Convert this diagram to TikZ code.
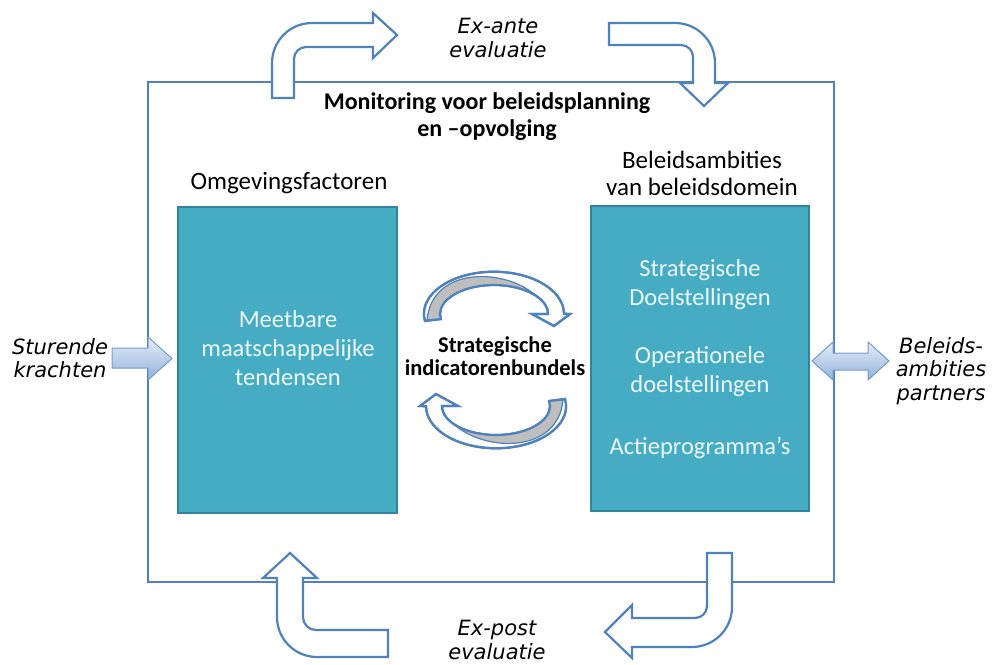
\documentclass[tikz,border=0pt]{standalone}
\usepackage{fontspec}
\setmainfont{Carlito}
\newfontfamily\verd{DejaVu Sans}
\definecolor{frameblue}{RGB}{79,129,189}
\definecolor{tealfill}{RGB}{70,172,196}
\definecolor{tealline}{RGB}{49,133,155}
\definecolor{boxtext}{RGB}{236,246,249}
\definecolor{foldgray}{RGB}{190,190,190}
\definecolor{arrtop}{RGB}{230,237,247}
\definecolor{arrbot}{RGB}{145,178,218}
\definecolor{arrline}{RGB}{115,155,205}
\begin{document}
\begin{tikzpicture}[x=1pt,y=-1pt,
  framestyle/.style={draw=frameblue, line width=2pt},
  bentarrow/.style={draw=frameblue, line width=2.2pt, fill=white, line join=miter},
  foldstyle/.style={fill=foldgray, draw=frameblue, line width=1.2pt},
  tealbox/.style={draw=tealline, line width=1.5pt, fill=tealfill, inner sep=0pt},
  boxlabel/.style={text=boxtext, align=center, font=\fontsize{24.5}{29}\selectfont},
  headlabel/.style={align=center, font=\fontsize{25}{27}\selectfont},
  sidelabel/.style={align=center, font=\verd\itshape\fontsize{21}{23.5}\selectfont},
  blockarrow/.style={draw=arrline, line width=1pt, top color=arrtop, bottom color=arrbot, line join=miter}]
\useasboundingbox (0,0) rectangle (992,664);

% frame
\draw[framestyle] (148,82) rectangle (834,582);

% boxes
\node[tealbox, minimum width=219pt, minimum height=306pt] (lbox) at (287.5,360) {};
\node[tealbox, minimum width=218pt, minimum height=305pt] (rbox) at (700,358.5) {};
\node[boxlabel] (ltext) at (288,348) {Meetbare\\maatschappelijke\\tendensen};
\node[boxlabel] (rtext1) at (700,284.5) {Strategische\\Doelstellingen};
\node[boxlabel] (rtext2) at (700,372) {Operationele\\doelstellingen};
\node[boxlabel] (rtext3) at (700,448) {Actieprogramma’s};

% headings
\node[headlabel, font=\bfseries\fontsize{24}{27}\selectfont] (title) at (487,117) {Monitoring voor beleidsplanning\\en –opvolging};
\node[headlabel] (omg) at (289,183) {Omgevingsfactoren};
\node[headlabel] (bel) at (702,173.5) {Beleidsambities\\van beleidsdomein};

% centre text
\node[align=center, font=\bfseries\fontsize{22.5}{23}\selectfont] (sib) at (495,356) {Strategische\\indicatorenbundels};

% circular arrows
\begin{scope}
  \path[bentarrow] (425,321) arc[start angle=170, end angle=360, x radius=70, y radius=42]
     -- (570,314) -- (554,326) -- (532,314) -- (548,314)
     arc[start angle=360, end angle=170, x radius=54, y radius=29] -- cycle;
  \path[foldstyle] (441,319) arc[start angle=170, end angle=320, x radius=54, y radius=29]
     .. controls (505,268) and (432,266) .. (427,320) -- cycle;
  \path[draw=frameblue, line width=2.2pt, line join=miter] (425,321) arc[start angle=170, end angle=360, x radius=70, y radius=42]
     -- (570,314) -- (554,326) -- (532,314) -- (548,314)
     arc[start angle=360, end angle=170, x radius=54, y radius=29] -- cycle;
\end{scope}
\begin{scope}[rotate around={180:(495,360)}]
  \path[bentarrow] (425,321) arc[start angle=170, end angle=360, x radius=70, y radius=42]
     -- (570,314) -- (554,326) -- (532,314) -- (548,314)
     arc[start angle=360, end angle=170, x radius=54, y radius=29] -- cycle;
  \path[foldstyle] (441,319) arc[start angle=170, end angle=320, x radius=54, y radius=29]
     .. controls (505,268) and (432,266) .. (427,320) -- cycle;
  \path[draw=frameblue, line width=2.2pt, line join=miter] (425,321) arc[start angle=170, end angle=360, x radius=70, y radius=42]
     -- (570,314) -- (554,326) -- (532,314) -- (548,314)
     arc[start angle=360, end angle=170, x radius=54, y radius=29] -- cycle;
\end{scope}

% bent arrows
\path[bentarrow] (272,98) -- (272,63) arc[start angle=180, end angle=270, radius=40]
   -- (373,23) -- (373,13) -- (397,35) -- (373,58) -- (373,47) -- (306,47)
   arc[start angle=270, end angle=180, radius=12] -- (294,98) -- cycle;
\path[bentarrow] (609,23) -- (675,23) arc[start angle=270, end angle=360, radius=40]
   -- (715,83) -- (728,83) -- (704,106) -- (680,83) -- (693,83) -- (693,57)
   arc[start angle=360, end angle=270, radius=12] -- (609,45) -- cycle;
\path[bentarrow] (388,657) -- (317,657) arc[start angle=90, end angle=180, radius=40]
   -- (277,578) -- (263,578) -- (290,553) -- (317,578) -- (303,578) -- (303,617)
   arc[start angle=180, end angle=90, radius=13] -- (388,630) -- cycle;
\path[bentarrow] (707,553) -- (732,553) -- (732,607) arc[start angle=0, end angle=90, radius=40]
   -- (632,647) -- (632,658) -- (605,632) -- (632,605) -- (632,618) -- (695,618)
   arc[start angle=90, end angle=0, radius=12] -- cycle;

\node[sidelabel] (exante) at (498,38) {Ex-ante\\evaluatie};
\node[sidelabel] (expost) at (497,640) {Ex-post\\evaluatie};

% side block arrows
\path[blockarrow] (112,348) -- (148,348) -- (148,337) -- (172,358.5) -- (148,380) -- (148,368) -- (112,368) -- cycle;
\path[blockarrow] (812,361) -- (833,342) -- (833,353) -- (868,353) -- (868,342) -- (889,361) -- (868,380) -- (868,370) -- (833,370) -- (833,380) -- cycle;

\node[sidelabel] (sturend) at (60,358) {Sturende\\krachten};
\node[sidelabel] (partners) at (941,371) {Beleids-\\ambities\\partners};
\end{tikzpicture}
\end{document}
